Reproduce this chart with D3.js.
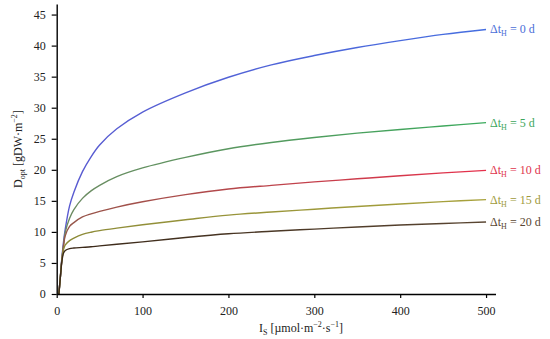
<!DOCTYPE html>
<html><head><meta charset="utf-8">
<script src="https://cdn.jsdelivr.net/npm/d3@7/dist/d3.min.js"></script>
<style>body{margin:0;background:#fff}text{font-family:"Liberation Serif","DejaVu Serif",serif}</style>
</head><body><svg id="c" width="550" height="339"></svg>
<script>
const irradiance = [2.5, 4, 5, 6, 8, 10, 15, 20, 30, 40, 50, 70, 100, 150, 200, 250, 300, 350, 400, 450, 500];
const d0  = [0, 2.3, 4, 5.8, 8.5, 10.5, 14.2, 16.4, 19.7, 22.1, 24.0, 26.6, 29.3, 32.4, 34.9, 36.9, 38.4, 39.7, 40.8, 41.8, 42.6];
const d5  = [0, 2.3, 4, 5.6, 8, 10, 12.2, 13.6, 15.4, 16.6, 17.5, 18.9, 20.3, 22.0, 23.4, 24.4, 25.2, 25.9, 26.5, 27.05, 27.6];
const d10 = [0, 2.3, 4, 5.5, 7.8, 9.4, 10.9, 11.5, 12.4, 12.9, 13.3, 14.0, 14.85, 16.0, 16.9, 17.5, 18.05, 18.55, 19.05, 19.5, 19.9];
const d15 = [0, 2.3, 4, 5.4, 7.2, 7.9, 8.6, 9.0, 9.6, 9.95, 10.2, 10.6, 11.15, 11.95, 12.7, 13.2, 13.65, 14.1, 14.5, 14.87, 15.2];
const d20 = [0, 2.3, 3.8, 5.2, 6.6, 7.0, 7.3, 7.4, 7.5, 7.6, 7.75, 8.0, 8.4, 9.1, 9.7, 10.1, 10.45, 10.8, 11.1, 11.35, 11.6];
const seriesNames = ["0", "5", "10", "15", "20"];
const seriesValues = [d0, d5, d10, d15, d20];
const xTicks = [0, 100, 200, 300, 400, 500];
const yTicks = [0, 5, 10, 15, 20, 25, 30, 35, 40, 45];
const colStart = ["#5a5ad0", "#6e8a62", "#93574a", "#8c8a38", "#3a2818"];
const colEnd   = ["#456ee0", "#3aaa5c", "#e6304c", "#a8a23c", "#5a4632"];
const labelCol = ["#4a6ed8", "#3ea65c", "#e0344c", "#a09a3c", "#5a4632"];

const svg = d3.select("#c");
const x = d3.scaleLinear().domain([0, 511]).range([56.7, 495.5]);
const y = d3.scaleLinear().domain([0, 46.7]).range([294, 4]);

const defs = svg.append("defs");
seriesNames.forEach((n, i) => {
  const g = defs.append("linearGradient").attr("id", "g" + i)
    .attr("gradientUnits", "userSpaceOnUse")
    .attr("x1", x(0)).attr("x2", x(500)).attr("y1", 0).attr("y2", 0);
  g.append("stop").attr("offset", "0").attr("stop-color", colStart[i]);
  g.append("stop").attr("offset", "1").attr("stop-color", colEnd[i]);
});

const line = d3.line().x(d => x(d[0])).y(d => y(d[1])).curve(d3.curveCatmullRom.alpha(0.5));
seriesValues.forEach((vals, i) => {
  svg.append("path").datum(irradiance.map((v, k) => [v, vals[k]]))
    .attr("d", line).attr("fill", "none").attr("stroke", "url(#g" + i + ")").attr("stroke-width", 1.4);
  const t = svg.append("text").attr("x", x(500) + 4).attr("y", y(vals[vals.length - 1]) + 4)
    .attr("fill", labelCol[i]).attr("font-size", 12);
  t.append("tspan").text("Δt");
  t.append("tspan").attr("font-size", 8).attr("dy", 3).text("H");
  t.append("tspan").attr("dy", -3).text(" = " + seriesNames[i] + " d");
});

const xa = svg.append("g").attr("transform", "translate(0,294)")
  .call(d3.axisBottom(x).tickValues(xTicks).tickSize(4).tickPadding(8).tickSizeOuter(0));
const ya = svg.append("g").attr("transform", "translate(56.7,0)")
  .call(d3.axisLeft(y).tickValues(yTicks).tickSize(5).tickPadding(6).tickSizeOuter(0));
[xa, ya].forEach(a => {
  a.select(".domain").attr("stroke", "#000").attr("stroke-width", 1.4);
  a.selectAll(".tick line").attr("stroke", "#000").attr("stroke-width", 1.2);
  a.selectAll(".tick text").attr("font-size", 12).attr("fill", "#222")
    .style("font-family", "'Liberation Serif','DejaVu Serif',serif");
});

const xl = svg.append("text").attr("x", 301).attr("y", 332).attr("text-anchor", "middle")
  .attr("font-size", 12).attr("fill", "#222");
xl.append("tspan").text("I");
xl.append("tspan").attr("font-size", 8).attr("dy", 3).text("S");
xl.append("tspan").attr("dy", -3).text(" [µmol·m");
xl.append("tspan").attr("font-size", 8).attr("dy", -5).text("−2");
xl.append("tspan").attr("dy", 5).text("·s");
xl.append("tspan").attr("font-size", 8).attr("dy", -5).text("−1");
xl.append("tspan").attr("dy", 5).text("]");

const yl = svg.append("text").attr("transform", "translate(22,149) rotate(-90)").attr("text-anchor", "middle")
  .attr("font-size", 12).attr("fill", "#222");
yl.append("tspan").text("D");
yl.append("tspan").attr("font-size", 8).attr("dy", 3).text("opt");
yl.append("tspan").attr("dy", -3).text(" [gDW·m");
yl.append("tspan").attr("font-size", 8).attr("dy", -5).text("−2");
yl.append("tspan").attr("dy", 5).text("]");
</script></body></html>
